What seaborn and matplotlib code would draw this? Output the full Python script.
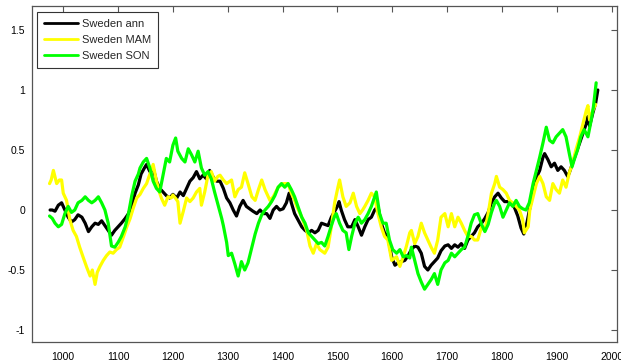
import numpy as np
import pandas as pd
import matplotlib
matplotlib.use("Agg")
import matplotlib.pyplot as plt
import seaborn as sns

# --- Sweden temperature reconstructions (anomalies) ---
ann_years = [976, 980, 985, 991, 997, 1003, 1009, 1015, 1021, 1027, 1034, 1040, 1046, 1052, 1058,
             1064, 1070, 1076, 1082, 1088, 1094, 1100, 1106, 1113, 1119, 1125, 1131, 1137, 1142,
             1148, 1152, 1158, 1164, 1170, 1176, 1182, 1188, 1194, 1200, 1207, 1213, 1219, 1225,
             1231, 1237, 1243, 1249, 1255, 1261, 1267, 1274, 1280, 1286, 1292, 1298, 1304, 1310,
             1316, 1322, 1328, 1334, 1340, 1346, 1353, 1359, 1365, 1371, 1377, 1383, 1389, 1395,
             1401, 1407, 1412, 1416, 1422, 1428, 1435, 1441, 1447, 1453, 1459, 1465, 1471, 1477,
             1483, 1489, 1495, 1500, 1503, 1507, 1513, 1519, 1526, 1532, 1538, 1544, 1550, 1556,
             1562, 1568, 1574, 1580, 1586, 1592, 1599, 1605, 1611, 1617, 1623, 1629, 1635, 1641,
             1647, 1653, 1659, 1665, 1671, 1677, 1683, 1689, 1696, 1702, 1708, 1714, 1720, 1726,
             1732, 1738, 1744, 1750, 1756, 1763, 1769, 1775, 1781, 1787, 1793, 1799, 1805, 1811,
             1817, 1823, 1829, 1835, 1840, 1846, 1852, 1858, 1864, 1869, 1875, 1878, 1884, 1890,
             1896, 1902, 1908, 1914, 1920, 1923, 1929, 1935, 1942, 1948, 1954, 1957, 1960, 1966,
             1971, 1975]
ann_vals = [0.0, 0.0, -0.01, 0.04, 0.06, 0.0, -0.06, -0.1, -0.08, -0.04, -0.06, -0.11, -0.18, -0.14,
            -0.11, -0.12, -0.09, -0.13, -0.17, -0.21, -0.17, -0.14, -0.11, -0.07, -0.03, 0.04, 0.14,
            0.21, 0.3, 0.35, 0.38, 0.32, 0.35, 0.24, 0.18, 0.15, 0.12, 0.1, 0.13, 0.1, 0.15, 0.12,
            0.18, 0.24, 0.27, 0.32, 0.26, 0.29, 0.26, 0.33, 0.27, 0.24, 0.24, 0.18, 0.1, 0.06, 0.0,
            -0.05, 0.03, 0.08, 0.03, 0.01, -0.01, -0.03, 0.0, -0.03, -0.03, -0.07, 0.0, 0.03, 0.0,
            0.01, 0.06, 0.14, 0.06, -0.03, -0.08, -0.14, -0.17, -0.19, -0.17, -0.19, -0.17, -0.11,
            -0.12, -0.13, -0.06, -0.01, 0.03, 0.07, 0.0, -0.08, -0.14, -0.14, -0.08, -0.14, -0.21,
            -0.14, -0.08, -0.06, 0.0, 0.03, -0.11, -0.19, -0.22, -0.39, -0.46, -0.44, -0.43, -0.42,
            -0.38, -0.33, -0.3, -0.31, -0.36, -0.47, -0.5, -0.46, -0.43, -0.4, -0.34, -0.3, -0.29,
            -0.32, -0.29, -0.31, -0.28, -0.32, -0.25, -0.22, -0.19, -0.14, -0.11, -0.07, -0.02, 0.06,
            0.11, 0.14, 0.1, 0.07, 0.07, 0.05, 0.02, -0.05, -0.15, -0.2, -0.1, 0.04, 0.18, 0.28,
            0.33, 0.44, 0.47, 0.42, 0.36, 0.39, 0.33, 0.36, 0.33, 0.28, 0.31, 0.39, 0.47, 0.56,
            0.64, 0.72, 0.78, 0.7, 0.81, 0.89, 1.0]

mam_years = [975, 978, 982, 988, 993, 997, 1000, 1006, 1012, 1018, 1024, 1030, 1036, 1043, 1049,
             1053, 1058, 1062, 1067, 1073, 1079, 1085, 1091, 1097, 1103, 1110, 1116, 1122, 1128,
             1134, 1140, 1146, 1152, 1158, 1164, 1170, 1176, 1179, 1185, 1191, 1197, 1200, 1206,
             1209, 1213, 1219, 1225, 1231, 1237, 1243, 1249, 1252, 1258, 1264, 1270, 1276, 1282,
             1286, 1292, 1298, 1307, 1313, 1319, 1325, 1331, 1337, 1344, 1350, 1356, 1362, 1368,
             1377, 1383, 1392, 1401, 1410, 1416, 1422, 1426, 1431, 1435, 1440, 1444, 1450, 1456,
             1462, 1468, 1474, 1477, 1483, 1489, 1495, 1501, 1504, 1510, 1516, 1523, 1529, 1535,
             1541, 1546, 1550, 1556, 1562, 1568, 1574, 1580, 1586, 1592, 1599, 1608, 1614, 1620,
             1626, 1632, 1635, 1641, 1647, 1653, 1659, 1665, 1671, 1677, 1683, 1689, 1696, 1702,
             1708, 1714, 1720, 1726, 1732, 1738, 1744, 1750, 1756, 1763, 1769, 1775, 1781, 1787,
             1790, 1796, 1802, 1808, 1814, 1820, 1826, 1832, 1838, 1841, 1848, 1851, 1857, 1863,
             1869, 1875, 1881, 1887, 1893, 1899, 1905, 1911, 1917, 1923, 1929, 1935, 1942, 1948,
             1954, 1957, 1960, 1966, 1971]
mam_vals = [0.22, 0.25, 0.33, 0.22, 0.25, 0.25, 0.14, 0.08, -0.08, -0.17, -0.22, -0.31, -0.39, -0.48,
            -0.55, -0.5, -0.62, -0.52, -0.47, -0.42, -0.38, -0.35, -0.36, -0.33, -0.31, -0.22, -0.14,
            -0.07, 0.02, 0.1, 0.13, 0.18, 0.22, 0.3, 0.38, 0.24, 0.14, 0.1, 0.04, 0.11, 0.1, 0.125,
            0.09, 0.07, -0.11, -0.01, 0.1, 0.07, 0.1, 0.15, 0.18, 0.04, 0.15, 0.29, 0.32, 0.24, 0.28,
            0.29, 0.25, 0.22, 0.25, 0.11, 0.17, 0.19, 0.31, 0.22, 0.11, 0.08, 0.17, 0.25, 0.17, 0.08,
            0.11, 0.19, 0.22, 0.22, 0.14, 0.08, 0.03, -0.02, -0.06, -0.12, -0.17, -0.3, -0.36, -0.28,
            -0.33, -0.35, -0.36, -0.31, -0.14, 0.06, 0.19, 0.25, 0.11, 0.03, 0.06, 0.14, 0.03, -0.03,
            0.0, 0.03, 0.08, 0.14, 0.11, -0.03, -0.14, -0.22, -0.25, -0.42, -0.39, -0.47, -0.39,
            -0.3, -0.19, -0.17, -0.28, -0.22, -0.11, -0.19, -0.25, -0.31, -0.36, -0.25, -0.06, -0.03,
            -0.14, -0.03, -0.14, -0.06, -0.11, -0.17, -0.22, -0.22, -0.25, -0.25, -0.14, -0.17,
            -0.03, 0.14, 0.22, 0.28, 0.19, 0.17, 0.14, 0.08, 0.06, 0.03, 0.0, -0.08, -0.19, -0.14,
            0.0, 0.11, 0.22, 0.28, 0.22, 0.11, 0.08, 0.22, 0.17, 0.14, 0.25, 0.19, 0.31, 0.39, 0.5,
            0.61, 0.72, 0.83, 0.87, 0.75, 0.83, 0.88]

son_years = [975, 980, 985, 991, 997, 1003, 1009, 1015, 1021, 1027, 1034, 1040, 1046, 1052, 1058,
             1064, 1070, 1076, 1082, 1088, 1094, 1100, 1106, 1113, 1119, 1125, 1131, 1137, 1140,
             1146, 1152, 1158, 1164, 1170, 1176, 1182, 1188, 1194, 1200, 1205, 1209, 1216, 1222,
             1228, 1234, 1240, 1246, 1252, 1258, 1264, 1270, 1276, 1283, 1289, 1292, 1298, 1301,
             1307, 1313, 1319, 1325, 1331, 1337, 1344, 1350, 1356, 1362, 1368, 1374, 1380, 1386,
             1392, 1398, 1404, 1410, 1416, 1422, 1428, 1435, 1441, 1447, 1453, 1459, 1465, 1471,
             1477, 1483, 1489, 1495, 1498, 1504, 1510, 1516, 1521, 1526, 1532, 1538, 1544, 1550,
             1556, 1562, 1568, 1571, 1577, 1583, 1589, 1595, 1601, 1608, 1614, 1620, 1626, 1632,
             1635, 1641, 1647, 1653, 1659, 1665, 1671, 1677, 1683, 1689, 1696, 1702, 1708, 1714,
             1720, 1726, 1732, 1738, 1744, 1750, 1756, 1763, 1769, 1775, 1781, 1787, 1790, 1796,
             1802, 1808, 1814, 1820, 1826, 1832, 1838, 1844, 1850, 1857, 1863, 1869, 1875, 1881,
             1887, 1893, 1899, 1905, 1911, 1917, 1923, 1928, 1932, 1938, 1944, 1950, 1957, 1963,
             1967, 1972]
son_vals = [-0.05, -0.07, -0.11, -0.14, -0.12, -0.03, 0.03, -0.02, 0.0, 0.06, 0.08, 0.11, 0.08, 0.06,
            0.08, 0.11, 0.06, 0.0, -0.11, -0.3, -0.31, -0.27, -0.22, -0.14, -0.03, 0.12, 0.24, 0.3,
            0.35, 0.4, 0.43, 0.35, 0.24, 0.18, 0.15, 0.29, 0.43, 0.4, 0.54, 0.6, 0.49, 0.43, 0.4,
            0.51, 0.46, 0.4, 0.49, 0.35, 0.29, 0.32, 0.26, 0.15, 0.03, -0.07, -0.13, -0.27, -0.38,
            -0.36, -0.45, -0.55, -0.43, -0.5, -0.44, -0.31, -0.2, -0.11, -0.04, 0.0, 0.03, 0.07,
            0.12, 0.19, 0.22, 0.19, 0.22, 0.17, 0.11, 0.03, -0.06, -0.11, -0.19, -0.22, -0.25,
            -0.28, -0.27, -0.3, -0.22, -0.13, -0.05, -0.03, -0.11, -0.17, -0.19, -0.33, -0.22,
            -0.11, -0.06, -0.11, -0.08, -0.03, 0.03, 0.11, 0.15, -0.03, -0.11, -0.11, -0.25, -0.33,
            -0.36, -0.33, -0.39, -0.38, -0.4, -0.31, -0.42, -0.53, -0.6, -0.66, -0.62, -0.58, -0.53,
            -0.62, -0.5, -0.44, -0.42, -0.36, -0.39, -0.36, -0.33, -0.31, -0.22, -0.11, -0.04,
            -0.03, -0.12, -0.18, -0.12, -0.02, 0.06, 0.08, 0.03, -0.06, 0.0, 0.06, 0.03, 0.08,
            0.03, 0.01, 0.0, 0.06, 0.22, 0.33, 0.44, 0.56, 0.69, 0.58, 0.56, 0.61, 0.64, 0.67,
            0.61, 0.47, 0.36, 0.42, 0.5, 0.61, 0.67, 0.61, 0.75, 0.86, 1.06]

series_names = ["Sweden ann", "Sweden MAM", "Sweden SON"]
series_colors = ["#000000", "#FFFF00", "#00FF00"]

x_ticks = [1000, 1100, 1200, 1300, 1400, 1500, 1600, 1700, 1800, 1900, 2000]
y_ticks = [-1, -0.5, 0, 0.5, 1, 1.5]
y_tick_labels = ["-1", "-0.5", "0", "0.5", "1", "1.5"]

df = pd.concat([
    pd.DataFrame({"year": ann_years, "anomaly": ann_vals, "series": series_names[0]}),
    pd.DataFrame({"year": mam_years, "anomaly": mam_vals, "series": series_names[1]}),
    pd.DataFrame({"year": son_years, "anomaly": son_vals, "series": series_names[2]}),
], ignore_index=True)

sns.set_style("white")
plt.rcParams["font.family"] = ["Liberation Sans", "DejaVu Sans"]

fig = plt.figure(figsize=(6.21, 3.64), dpi=100)
ax = fig.add_axes([32 / 621, 22 / 364, 585 / 621, 336 / 364])

sns.lineplot(data=df, x="year", y="anomaly", hue="series", hue_order=series_names,
             palette=dict(zip(series_names, series_colors)), estimator=None, sort=False,
             linewidth=2.3, ax=ax, legend=False)

ax.set_xlim(943, 2010)
ax.set_ylim(-1.1, 1.7)
ax.set_xticks(x_ticks)
ax.set_xticklabels([str(t) for t in x_ticks])
ax.set_yticks(y_ticks)
ax.set_yticklabels(y_tick_labels)
ax.set_xlabel("")
ax.set_ylabel("")
ax.tick_params(direction="in", top=True, right=True, length=4, width=0.8,
               color="#555555", labelsize=7.5, labelcolor="black")
ax.tick_params(axis="x", pad=7)
ax.tick_params(axis="y", pad=5)
for sp in ax.spines.values():
    sp.set_color("#555555")
    sp.set_linewidth(0.9)

handles = [plt.Line2D([], [], color=c, lw=2.0) for c in series_colors]
leg = ax.legend(handles, series_names, loc="upper left",
                bbox_to_anchor=(5 / 585, 1 - 6 / 336), borderaxespad=0,
                fancybox=False, framealpha=1, edgecolor="#333333",
                fontsize=8, handlelength=3.1, labelspacing=0.55,
                handletextpad=0.35, borderpad=0.6)
leg.get_frame().set_linewidth(0.8)

fig.savefig("out.png", dpi=100)
